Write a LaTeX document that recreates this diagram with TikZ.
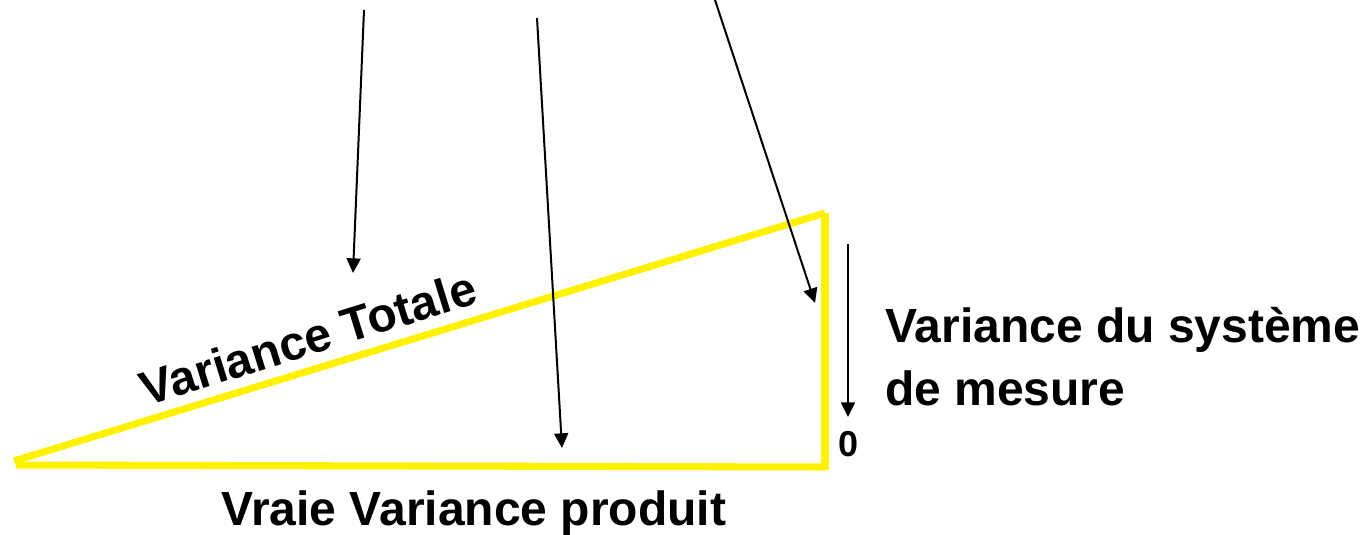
\documentclass[tikz,border=0pt]{standalone}
\usepackage{fontspec}
\setmainfont{Liberation Sans}
\usetikzlibrary{arrows.meta}
\begin{document}
\begin{tikzpicture}[x=0.75pt,y=-0.75pt,
  yel/.style={draw=yellow,line width=5.3pt},
  arr/.style={draw=black,line width=1.5pt,-{Triangle[length=11pt,width=10.5pt]}},
  lbl/.style={font=\bfseries\fontsize{36}{40}\selectfont,inner sep=0pt},
  every node/.style={inner sep=0pt}]
\useasboundingbox (0,0) rectangle (1370,535);
\coordinate (A) at (14,461);
\coordinate (B) at (825,467);
\coordinate (C) at (825,213);
\draw[yel] (A) -- (C);
\draw[yel] (16,465) -- (B);
\draw[yel] (C) -- (825,470);
\coordinate (s1) at (364,10);
\coordinate (e1) at (353,273);
\coordinate (s2) at (537,18);
\coordinate (e2) at (562,448);
\coordinate (s3) at (715,0);
\coordinate (e3) at (815,303);
\coordinate (s4) at (848,244);
\coordinate (e4) at (848,417);
\draw[arr] (s1) -- (e1);
\draw[arr] (s2) -- (e2);
\draw[arr] (s3) -- (e3);
\draw[arr] (s4) -- (e4);
\node[font=\bfseries\fontsize{27}{29}\selectfont] (zero) at (848,444) {0};
\node[lbl,rotate=17.3] (vt) at (308,338) {Variance Totale};
\node[lbl,anchor=west] (vs1) at (885,330) {Variance du système};
\node[lbl,anchor=west] (vs2) at (885,388) {de mesure};
\node[lbl] (vp) at (474,513) {Vraie Variance produit};
\end{tikzpicture}
\end{document}
